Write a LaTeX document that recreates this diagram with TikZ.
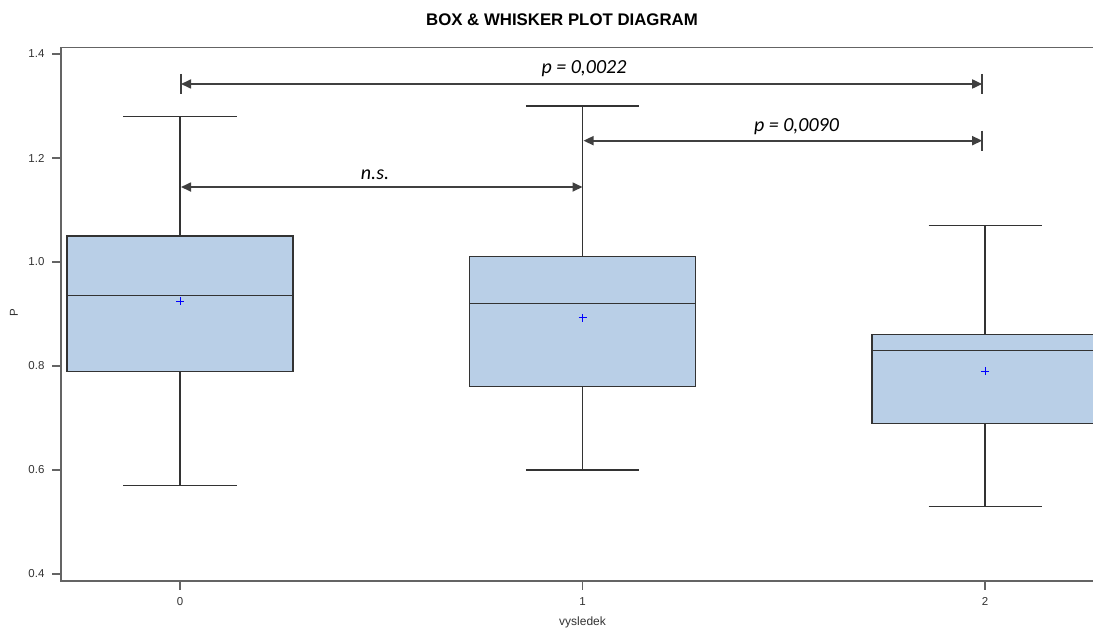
\documentclass[tikz,border=0pt]{standalone}
\usepackage{fontspec}
\setmainfont{Liberation Sans}
\newfontfamily\calibri{Carlito}
\usetikzlibrary{arrows.meta}
\definecolor{boxfill}{RGB}{185,207,231}
\definecolor{framegray}{RGB}{100,100,100}
\definecolor{textgray}{RGB}{50,50,50}
\tikzset{
	frameline/.style={draw=framegray, line width=1.8pt},
	whisk/.style={draw=black!80, line width=1.2pt},
	boxpart/.style={draw=black!80, fill=boxfill, line width=1.2pt},
	meanmark/.style={draw=blue, line width=0.8pt},
	cmp/.style={draw=black!75, line width=1.7pt},
	twotip/.style={{Triangle[length=10pt,width=9pt]}-{Triangle[length=10pt,width=9pt]}},
	ticklab/.style={text=textgray, font=\fontsize{11.5}{13}\selectfont},
	plab/.style={font=\calibri\itshape\fontsize{20}{24}\selectfont}
}

\begin{document}
\begin{tikzpicture}[x=402.5pt, y=520pt]
	\clip (-0.4472,0.29615) rectangle (2.2683,1.50385);
	% title
	\node (title) at (0.949,1.4654) {\fontsize{16.8}{20}\selectfont\bfseries BOX \& WHISKER PLOT DIAGRAM};
	% frame and axes
	\draw [frameline] (2.4,1.4125) -- (-0.2957,1.4125) -- (-0.2957,0.3871) -- (2.4,0.3871);
	\foreach \v in {0.4,0.6,0.8,1.0,1.2,1.4} {
		\draw [frameline, line width=1.2pt] (-0.2957,\v) -- ++(-9pt,0);
		\node [ticklab, anchor=east] at ([xshift=-13pt]-0.2957,\v) {\v};
	}
	\foreach \i in {0,1,2} {
		\draw [frameline, line width=1.2pt] (\i,0.3871) -- ++(0,-9pt);
		\node [ticklab] at ([yshift=-21pt]\i,0.3871) {\i};
	}
	\node [ticklab, font=\fontsize{12}{14}\selectfont] (xlab) at (1,0.3077) {vysledek};
	\node [ticklab, font=\fontsize{11.5}{13}\selectfont, rotate=90] (ylab) at (-0.4124,0.9019) {P};
	% boxes
	\foreach \i/\lo/\qa/\md/\qb/\hi/\mn in {0/0.57/0.79/0.935/1.05/1.28/0.925, 1/0.60/0.76/0.92/1.01/1.30/0.893, 2/0.53/0.69/0.83/0.86/1.07/0.79} {
		\draw [whisk] (\i,\lo) -- (\i,\qa);
		\draw [whisk] (\i,\qb) -- (\i,\hi);
		\draw [whisk] (\i-0.1404,\lo) -- (\i+0.1404,\lo);
		\draw [whisk] (\i-0.1404,\hi) -- (\i+0.1404,\hi);
		\draw [boxpart] (\i-0.2807,\qa) rectangle (\i+0.2807,\qb);
		\draw [whisk] (\i-0.2807,\md) -- (\i+0.2807,\md);
		\draw [meanmark] (\i,\mn) +(-4pt,0) -- +(4pt,0) +(0,-4pt) -- +(0,4pt);
	}
	% comparisons
	\coordinate (a0) at (0.0025,1.3423);
	\coordinate (a2) at (1.993,1.3423);
	\coordinate (b1) at (1.0025,1.2333);
	\coordinate (b2) at (1.993,1.2333);
	\coordinate (c0) at (0.0025,1.1442);
	\coordinate (c1) at (1.0,1.1442);
	\draw [cmp, twotip] (a0) -- (a2);
	\draw [cmp] (a0) ++(0,10pt) -- ++(0,-20pt);
	\draw [cmp] (a2) ++(0,10pt) -- ++(0,-20pt);
	\draw [cmp, twotip] (b1) -- (b2);
	\draw [cmp] (b2) ++(0,10pt) -- ++(0,-20pt);
	\draw [cmp, twotip] (c0) -- (c1);
	\node [plab] (pa) at (1.0037,1.3712) {p = 0,0022};
	\node [plab] (pb) at (1.5317,1.2596) {p = 0,0090};
	\node [plab] (pc) at (0.4845,1.1683) {n.s.};
\end{tikzpicture}
\end{document}
